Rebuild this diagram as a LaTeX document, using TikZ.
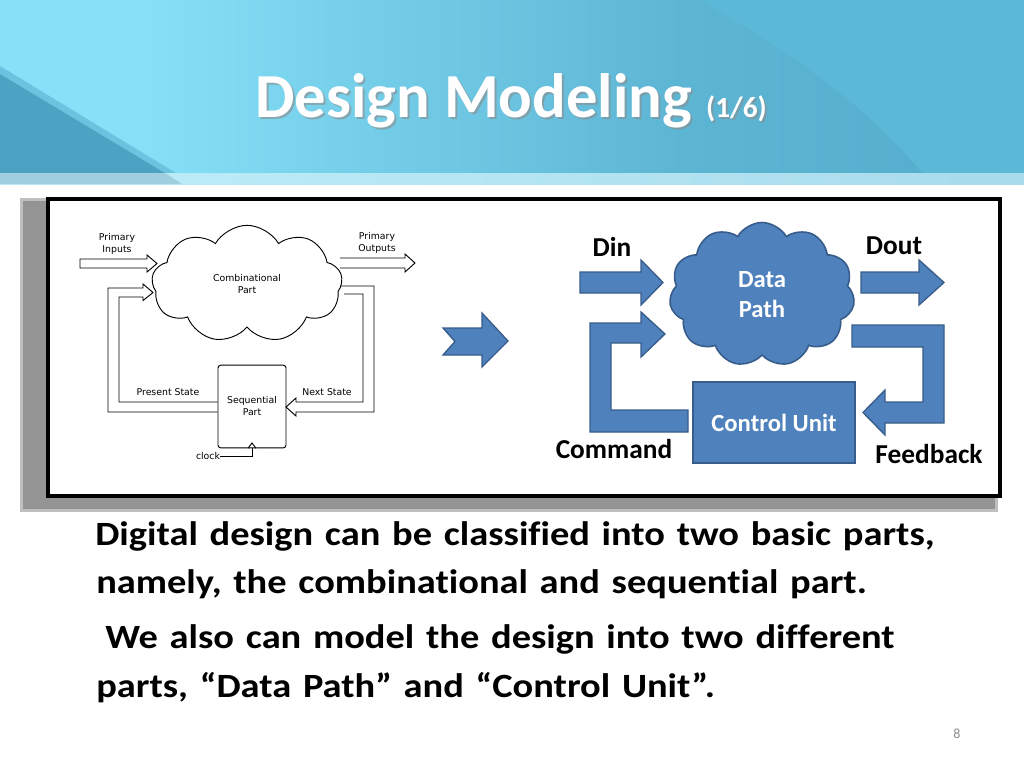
\documentclass[tikz,border=0pt]{standalone}
\usepackage{fontspec}
\setmainfont{Carlito}
\newfontfamily\bodyf[FakeStretch=1.13, WordSpace=1.35, Ligatures=NoCommon]{Carlito}
\newfontfamily\comicf{DejaVu Sans}
\usetikzlibrary{shapes.symbols}
\definecolor{blueF}{HTML}{4F81BD}
\definecolor{blueD}{HTML}{385D8A}
\definecolor{hdrL}{HTML}{86E1F8}
\definecolor{hdrM}{HTML}{5DB5D4}
\definecolor{hdrD}{HTML}{4AA3C3}
\definecolor{hdrR}{HTML}{5CB8D7}
\definecolor{triD}{HTML}{4BA2C2}
\definecolor{triE}{HTML}{6CC3DF}
\definecolor{stripL}{HTML}{BDEEFA}
\definecolor{stripR}{HTML}{A9DCEB}
\definecolor{stripG}{HTML}{9FCFDE}
\pgfdeclarehorizontalshading{hdrsh}{100bp}{color(0bp)=(hdrL); color(32bp)=(hdrL); color(62bp)=(hdrM); color(100bp)=(hdrD)}
\tikzset{
  body/.style={font=\bodyf\fontsize{25.5}{30}\selectfont\bfseries, inner sep=0pt, anchor=base west},
  blk/.style={font=\fontsize{20.5}{24}\selectfont\bfseries, inner sep=0pt},
  wht/.style={font=\fontsize{18.5}{22.5}\selectfont\bfseries, text=white, align=center},
  sm/.style={font=\comicf\fontsize{7}{9}\selectfont, align=center, inner sep=0pt},
  hollow/.style={draw=black, line width=0.7pt, line join=miter},
  barrow/.style={fill=blueF, draw=blueD, line width=1pt, line join=miter}
}
\begin{document}
\begin{tikzpicture}[x=0.75pt,y=-0.75pt]
\useasboundingbox (0,0) rectangle (1024,768);
\fill[white] (0,0) rectangle (1024,768);
% header
\fill[hdrR] (0,0) rectangle (1024,173);
\path[shading=hdrsh] (0,0) -- (699,0) .. controls (790,50) and (870,110) .. (922,173) -- (0,173) -- cycle;
\fill[triE] (0,66) -- (176,173) -- (165,173) -- (0,74) -- cycle;
\fill[triD] (0,74) -- (165,173) -- (0,173) -- cycle;
\shade[left color=stripL, right color=stripR] (0,173) rectangle (1024,184);
\fill[stripG] (0,173) -- (165,173) -- (182,184) -- (0,184) -- cycle;
% title
\node[anchor=base west, inner sep=0pt, text=black!45, opacity=0.6] (titsh) at (257,119.5)
  {\fontsize{47}{50}\selectfont\bfseries Design Modeling \fontsize{22}{24}\selectfont(1/6)};
\node[anchor=base west, inner sep=0pt, text=white] (tit) at (255,117)
  {\fontsize{47}{50}\selectfont\bfseries Design Modeling \fontsize{22}{24}\selectfont(1/6)};
% frame with shadow
\fill[black!25] (20,198) rectangle (998,512);
\fill[black!42] (23,201) rectangle (995,509);
\fill[white] (48,199) rectangle (1000,496);
\draw[line width=3pt] (48,199) rectangle (1000,496);
% ---------- left diagram ----------
\node[cloud, draw, line width=0.7pt, cloud puffs=9, cloud puff arc=120, cloud ignores aspect,
      minimum width=143pt, minimum height=88pt, sm] (cc) at (247,284) {Combinational\\Part};
\node[sm] (pin) at (117,244) {Primary\\Inputs};
\node[sm] (pout) at (377,243) {Primary\\Outputs};
\draw[hollow, fill=white] (80,259) -- (147,259) -- (147,255) -- (157,263.5) -- (147,272) -- (147,268) -- (80,268) -- cycle;
\draw[hollow] (340,258) -- (405,258) -- (405,254) -- (415,263) -- (405,272) -- (405,268) -- (340,268);
\node[draw, line width=0.7pt, rounded corners=2pt, minimum width=51pt, minimum height=62pt, sm] (sp) at (252,406.5) {Sequential\\Part};
\draw[hollow] (sp.west |- 0,402) -- (119,402) -- (119,297) -- (143,297) -- (143,300.5) -- (153,292.5) -- (143,284) -- (143,288) -- (108,288) -- (108,412) -- (sp.west |- 0,412);
\draw[hollow] (341,286) -- (374,286) -- (374,412) -- (296,412) -- (296,416) -- (286,407) -- (296,398) -- (296,402) -- (363,402) -- (363,294) -- (344,294);
\node[sm] (ps) at (168,392) {Present State};
\node[sm] (ns) at (327,392) {Next State};
\node[sm] (clk) at (208,456) {clock};
\draw[line width=0.7pt] (clk.east) -| (sp.south);
\draw[line width=0.7pt] ([xshift=-3pt]sp.south) -- ([yshift=4pt]sp.south) -- ([xshift=3pt]sp.south);
% ---------- middle chevron ----------
\draw[barrow] (443,328) -- (482,328) -- (482,313) -- (508,341) -- (482,367) -- (482,355) -- (443,355) -- (455,341.5) -- cycle;
% ---------- right diagram ----------
\draw[barrow] (580,272) -- (641,272) -- (641,260) -- (663,282.5) -- (641,305) -- (641,293) -- (580,293) -- cycle;
\draw[barrow] (861,272) -- (919,272) -- (919,260) -- (944,282.5) -- (919,305) -- (919,293) -- (861,293) -- cycle;
\draw[barrow] (852,325) -- (944,325) -- (944,423) -- (885,423) -- (885,435) -- (863,412.5) -- (885,390) -- (885,402) -- (923,402) -- (923,347) -- (852,347) -- cycle;
\draw[barrow] (688,410) -- (688,432) -- (590,432) -- (590,323) -- (641,323) -- (641,312) -- (665,334) -- (641,357) -- (641,343) -- (611,343) -- (611,410) -- cycle;
\node[cloud, cloud puffs=11, cloud puff arc=120, cloud ignores aspect, fill=blueF, draw=blueD, line width=1.2pt,
      minimum width=139pt, minimum height=108pt, wht] (dp) at (762,294.5) {Data\\Path};
\node[fill=blueF, draw=blueD, line width=1.2pt, minimum width=121.5pt, minimum height=60.75pt, wht] (cu) at (774,422.5) {Control Unit};
\node[blk] (din) at (612,247) {Din};
\node[blk] (dout) at (894,246) {Dout};
\node[blk] (cmd) at (614,449) {Command};
\node[blk] (fb) at (929,454) {Feedback};
% ---------- body text ----------
\node[body] (l1) at (95,545) {Digital design can be classified into two basic parts,};
\node[body] (l2) at (96,593) {namely, the combinational and sequential part.};
\node[body] (l3) at (105,648) {We also can model the design into two different};
\node[body] (l4) at (96,697) {parts, “Data Path” and “Control Unit”.};
\node[anchor=base, inner sep=0pt, text=black!45, font=\fontsize{10.5}{12}\selectfont] (pg) at (957,738) {8};
\end{tikzpicture}
\end{document}
